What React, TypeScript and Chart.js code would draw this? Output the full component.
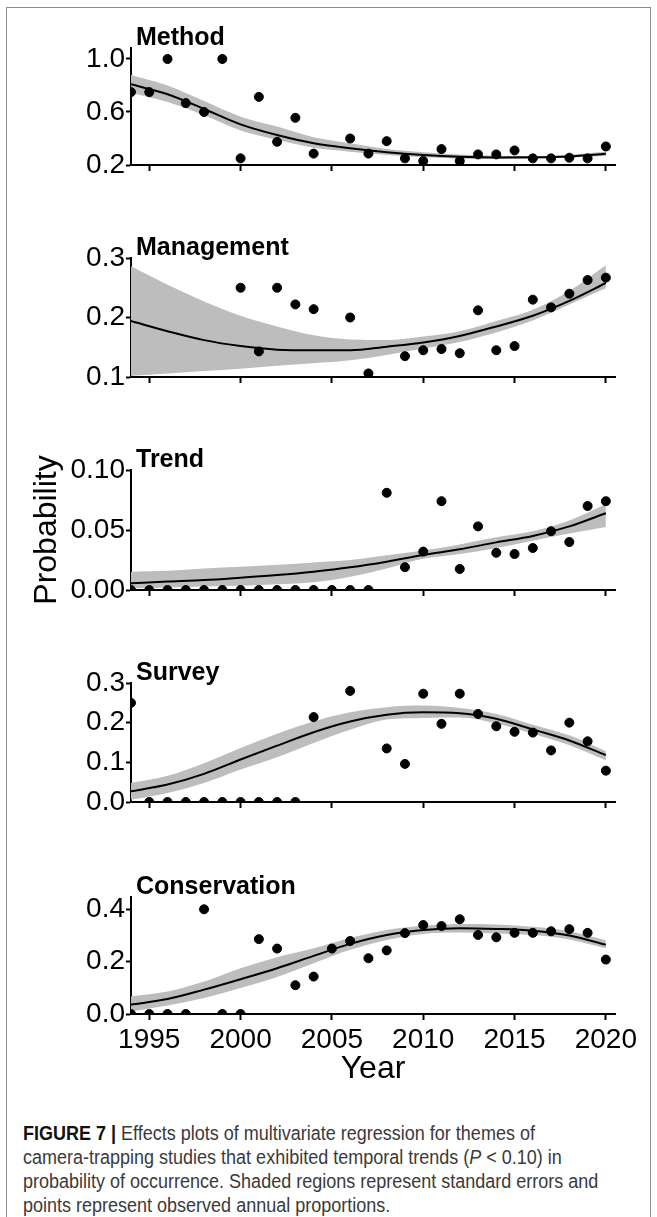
import React, { useEffect, useRef } from 'react';
import { Chart, registerables } from 'chart.js';

Chart.register(...registerables);

// ---------------- data ----------------
const years = [1994, 1995, 1996, 1997, 1998, 1999, 2000, 2001, 2002, 2003, 2004, 2005, 2006, 2007, 2008, 2009, 2010, 2011, 2012, 2013, 2014, 2015, 2016, 2017, 2018, 2019, 2020];
const fitYears = [1994, 1996, 1998, 2000, 2002, 2004, 2006, 2008, 2010, 2012, 2014, 2016, 2018, 2020];
const xTickValues = [1995, 2000, 2005, 2010, 2015, 2020];
const xTickLabels = ['1995', '2000', '2005', '2010', '2015', '2020'];

const panelTitles = ['Method', 'Management', 'Trend', 'Survey', 'Conservation'];

// Method
const methodObs = [0.75, 0.75, 1.0, 0.667, 0.6, 1.0, 0.25, 0.714, 0.375, 0.556, 0.286, null, 0.4, 0.286, 0.38, 0.25, 0.23, 0.32, 0.23, 0.28, 0.28, 0.31, 0.25, 0.25, 0.255, 0.25, 0.34];
const methodFit = [0.809, 0.734, 0.623, 0.507, 0.426, 0.364, 0.326, 0.296, 0.275, 0.262, 0.257, 0.258, 0.265, 0.285];
const methodUpper = [0.879, 0.8, 0.683, 0.565, 0.49, 0.41, 0.364, 0.32, 0.296, 0.28, 0.27, 0.268, 0.278, 0.3];
const methodLower = [0.745, 0.675, 0.575, 0.46, 0.39, 0.33, 0.3, 0.275, 0.258, 0.248, 0.245, 0.248, 0.255, 0.27];
const methodTicks = [0.2, 0.6, 1.0];
const methodTickLabels = ['0.2', '0.6', '1.0'];

// Management
const managementObs = [null, null, null, null, null, null, 0.25, 0.143, 0.25, 0.222, 0.214, null, 0.2, 0.106, null, 0.135, 0.145, 0.147, 0.14, 0.212, 0.145, 0.152, 0.23, 0.217, 0.24, 0.263, 0.267];
const managementFit = [0.194, 0.177, 0.162, 0.152, 0.146, 0.145, 0.145, 0.151, 0.158, 0.169, 0.185, 0.203, 0.228, 0.258];
const managementUpper = [0.286, 0.255, 0.227, 0.203, 0.185, 0.17, 0.163, 0.162, 0.168, 0.177, 0.194, 0.213, 0.245, 0.288];
const managementLower = [0.102, 0.106, 0.11, 0.114, 0.119, 0.123, 0.128, 0.137, 0.148, 0.159, 0.175, 0.195, 0.222, 0.249];
const managementTicks = [0.1, 0.2, 0.3];
const managementTickLabels = ['0.1', '0.2', '0.3'];

// Trend
const trendObs = [0, 0, 0, 0, 0, 0, 0, 0, 0, 0, 0, 0, 0, 0, 0.081, 0.019, 0.032, 0.074, 0.0175, 0.053, 0.031, 0.03, 0.035, 0.049, 0.04, 0.07, 0.074];
const trendFit = [0.0056, 0.007, 0.0083, 0.0103, 0.0125, 0.0153, 0.0189, 0.0236, 0.0292, 0.034, 0.0397, 0.045, 0.053, 0.064];
const trendUpper = [0.0153, 0.016, 0.018, 0.0194, 0.021, 0.023, 0.025, 0.029, 0.033, 0.038, 0.044, 0.049, 0.058, 0.0715];
const trendLower = [0.0014, 0.002, 0.003, 0.0036, 0.0047, 0.0064, 0.011, 0.018, 0.026, 0.03, 0.035, 0.041, 0.047, 0.0526];
const trendTicks = [0, 0.05, 0.1];
const trendTickLabels = ['0.00', '0.05', '0.10'];

// Survey
const surveyObs = [0.25, 0, 0, 0, 0, 0, 0, 0, 0, 0, 0.214, null, 0.28, null, 0.135, 0.096, 0.273, 0.197, 0.273, 0.222, 0.191, 0.177, 0.175, 0.13, 0.2, 0.153, 0.079];
const surveyFit = [0.027, 0.044, 0.071, 0.107, 0.142, 0.176, 0.203, 0.22, 0.226, 0.224, 0.21, 0.183, 0.155, 0.118];
const surveyUpper = [0.048, 0.066, 0.098, 0.136, 0.172, 0.203, 0.226, 0.239, 0.243, 0.237, 0.222, 0.195, 0.168, 0.128];
const surveyLower = [0.006, 0.023, 0.048, 0.082, 0.113, 0.149, 0.182, 0.208, 0.212, 0.213, 0.198, 0.172, 0.143, 0.105];
const surveyTicks = [0, 0.1, 0.2, 0.3];
const surveyTickLabels = ['0.0', '0.1', '0.2', '0.3'];

// Conservation
const conservationObs = [0, 0, 0, 0, 0.4, 0, 0, 0.286, 0.25, 0.11, 0.143, 0.25, 0.279, 0.213, 0.243, 0.309, 0.34, 0.336, 0.362, 0.302, 0.293, 0.31, 0.31, 0.316, 0.324, 0.31, 0.208];
const conservationFit = [0.036, 0.057, 0.093, 0.133, 0.175, 0.222, 0.268, 0.302, 0.321, 0.328, 0.325, 0.318, 0.3, 0.265];
const conservationUpper = [0.067, 0.086, 0.124, 0.175, 0.217, 0.251, 0.29, 0.321, 0.337, 0.344, 0.342, 0.333, 0.316, 0.282];
const conservationLower = [0.01, 0.032, 0.061, 0.099, 0.141, 0.194, 0.245, 0.283, 0.306, 0.311, 0.308, 0.302, 0.285, 0.251];
const conservationTicks = [0, 0.2, 0.4];
const conservationTickLabels = ['0.0', '0.2', '0.4'];

const yAxisTitle = 'Probability';
const xAxisTitle = 'Year';

// ---------------- layout / style ----------------
const FONT = '"Liberation Sans", Arial, Helvetica, sans-serif';
const PAGE_W = 657;
const CHART_LEFT = 131;
const CHART_RIGHT = 615;
const X_MIN = 1994;
const X_MAX = 2020.5;
const BAND = '#bdbdbd';
const TICK_FONT = 28;

type PanelCfg = {
  title: string;
  obs: (number | null)[];
  fit: number[];
  upper: number[];
  lower: number[];
  yMin: number;
  yMax: number;
  yTicks: number[];
  yTickLabels: string[];
  chartTop: number;
  chartBottom: number;
  bottomPanel?: boolean;
  yTitle?: string;
};

const panels: PanelCfg[] = [
  { title: panelTitles[0], obs: methodObs, fit: methodFit, upper: methodUpper, lower: methodLower, yMin: 0.2, yMax: 1.083, yTicks: methodTicks, yTickLabels: methodTickLabels, chartTop: 48, chartBottom: 165 },
  { title: panelTitles[1], obs: managementObs, fit: managementFit, upper: managementUpper, lower: managementLower, yMin: 0.1, yMax: 0.3, yTicks: managementTicks, yTickLabels: managementTickLabels, chartTop: 258, chartBottom: 377 },
  { title: panelTitles[2], obs: trendObs, fit: trendFit, upper: trendUpper, lower: trendLower, yMin: 0, yMax: 0.1, yTicks: trendTicks, yTickLabels: trendTickLabels, chartTop: 470, chartBottom: 590, yTitle: yAxisTitle },
  { title: panelTitles[3], obs: surveyObs, fit: surveyFit, upper: surveyUpper, lower: surveyLower, yMin: 0, yMax: 0.3, yTicks: surveyTicks, yTickLabels: surveyTickLabels, chartTop: 683, chartBottom: 802 },
  { title: panelTitles[4], obs: conservationObs, fit: conservationFit, upper: conservationUpper, lower: conservationLower, yMin: 0, yMax: 0.447, yTicks: conservationTicks, yTickLabels: conservationTickLabels, chartTop: 897, chartBottom: 1014, bottomPanel: true },
];

const panelTitlePlugin = {
  id: 'panelTitle',
  afterDraw(chart: any, _args: any, opts: any) {
    const { ctx, chartArea } = chart;
    ctx.save();
    ctx.font = `bold 25px ${FONT}`;
    ctx.fillStyle = '#000';
    ctx.textAlign = 'left';
    ctx.textBaseline = 'alphabetic';
    ctx.fillText(opts.text, chartArea.left + 5, chartArea.top - 3);
    ctx.restore();
  },
};

function PanelChart({ cfg }: { cfg: PanelCfg }) {
  const ref = useRef<HTMLCanvasElement | null>(null);
  const PAD_TOP = 40;
  const X_H = cfg.bottomPanel ? 74 : 8;
  const PAD_BOTTOM = cfg.bottomPanel ? 4 : 12;
  const height = PAD_TOP + (cfg.chartBottom - cfg.chartTop) + X_H + PAD_BOTTOM;
  const canvasTop = cfg.chartTop - PAD_TOP;

  useEffect(() => {
    if (!ref.current) return;
    const obsPts = years
      .map((x, i) => (cfg.obs[i] === null ? null : { x, y: cfg.obs[i] as number }))
      .filter((p) => p !== null) as { x: number; y: number }[];
    const fitPts = fitYears.map((x, i) => ({ x, y: cfg.fit[i] }));
    const upPts = fitYears.map((x, i) => ({ x, y: cfg.upper[i] }));
    const loPts = fitYears.map((x, i) => ({ x, y: cfg.lower[i] }));

    const gridOpts = (len: number) => ({
      display: true,
      drawOnChartArea: false,
      drawTicks: true,
      tickLength: len,
      tickWidth: 2,
      tickColor: '#000',
      color: '#000',
    });

    const chart = new Chart(ref.current, {
      type: 'scatter',
      data: {
        datasets: [
          {
            label: 'observed',
            data: obsPts,
            showLine: false,
            pointRadius: 4.5,
            pointBorderWidth: 1,
            pointBackgroundColor: '#000',
            pointBorderColor: '#000',
            order: 1,
            clip: 0,
          },
          {
            label: 'fit',
            data: fitPts,
            showLine: true,
            borderColor: '#000',
            borderWidth: 2,
            pointRadius: 0,
            cubicInterpolationMode: 'monotone',
            fill: false,
            order: 2,
            clip: 0,
          },
          {
            label: 'upper',
            data: upPts,
            showLine: true,
            borderColor: 'rgba(0,0,0,0)',
            borderWidth: 0,
            pointRadius: 0,
            backgroundColor: BAND,
            fill: '+1',
            cubicInterpolationMode: 'monotone',
            order: 3,
            clip: 0,
          },
          {
            label: 'lower',
            data: loPts,
            showLine: true,
            borderColor: 'rgba(0,0,0,0)',
            borderWidth: 0,
            pointRadius: 0,
            backgroundColor: BAND,
            fill: false,
            cubicInterpolationMode: 'monotone',
            order: 3,
            clip: 0,
          },
        ],
      } as any,
      options: {
        responsive: false,
        animation: false,
        events: [],
        layout: { padding: { left: 0, right: PAGE_W - CHART_RIGHT, top: PAD_TOP, bottom: PAD_BOTTOM } },
        plugins: {
          legend: { display: false },
          tooltip: { enabled: false },
          title: { display: false },
          panelTitle: { text: cfg.title },
        } as any,
        scales: {
          x: {
            type: 'linear',
            min: X_MIN,
            max: X_MAX,
            afterBuildTicks: (s: any) => {
              s.ticks = xTickValues.map((v) => ({ value: v }));
            },
            afterFit: (s: any) => {
              s.height = X_H;
            },
            grid: gridOpts(6),
            border: { display: true, color: '#000', width: 2 },
            ticks: {
              display: !!cfg.bottomPanel,
              color: '#000',
              font: { family: FONT, size: TICK_FONT },
              padding: 3,
              maxRotation: 0,
              autoSkip: false,
              callback: (_v: any, i: number) => xTickLabels[i],
            },
            title: cfg.bottomPanel
              ? { display: true, text: xAxisTitle, color: '#000', font: { family: FONT, size: 32 }, padding: 0 }
              : { display: false },
          },
          y: {
            type: 'linear',
            min: cfg.yMin,
            max: cfg.yMax,
            afterBuildTicks: (s: any) => {
              s.ticks = cfg.yTicks.map((v) => ({ value: v }));
            },
            afterFit: (s: any) => {
              s.width = CHART_LEFT;
            },
            grid: gridOpts(5),
            border: { display: true, color: '#000', width: 2 },
            ticks: {
              color: '#000',
              font: { family: FONT, size: TICK_FONT },
              padding: 1,
              autoSkip: false,
              callback: (_v: any, i: number) => cfg.yTickLabels[i],
            },
            title: cfg.yTitle
              ? { display: true, text: cfg.yTitle, color: '#000', font: { family: FONT, size: 32 }, padding: { top: 28, bottom: 0 } }
              : { display: false },
          },
        },
      } as any,
      plugins: [panelTitlePlugin as any],
    });
    return () => chart.destroy();
  }, []);

  return (
    <canvas
      ref={ref}
      width={PAGE_W}
      height={height}
      style={{ position: 'absolute', left: 0, top: canvasTop, width: PAGE_W, height }}
    />
  );
}

export default function App() {
  return (
    <div style={{ position: 'absolute', left: 0, top: 0, width: PAGE_W, height: 1217, background: '#fff', overflow: 'hidden' }}>
      <div
        style={{
          position: 'absolute',
          left: 6,
          top: 7,
          width: 643,
          height: 1230,
          borderLeft: '1px solid #8c8c8c',
          borderTop: '1px solid #8c8c8c',
          borderRight: '1px solid #8c8c8c',
        }}
      />
      {panels.map((p) => (
        <PanelChart key={p.title} cfg={p} />
      ))}
      <div
        style={{
          position: 'absolute',
          left: 23,
          top: 1121,
          fontFamily: FONT,
          fontSize: 20,
          lineHeight: '24px',
          color: '#3a3a3a',
          whiteSpace: 'nowrap',
          transform: 'scaleX(0.9)',
          transformOrigin: 'left top',
        }}
      >
        <b style={{ color: '#111' }}>FIGURE 7 |</b> Effects plots of multivariate regression for themes of
        <br />
        camera-trapping studies that exhibited temporal trends (<i>P</i> &lt; 0.10) in
        <br />
        probability of occurrence. Shaded regions represent standard errors and
        <br />
        points represent observed annual proportions.
      </div>
    </div>
  );
}
